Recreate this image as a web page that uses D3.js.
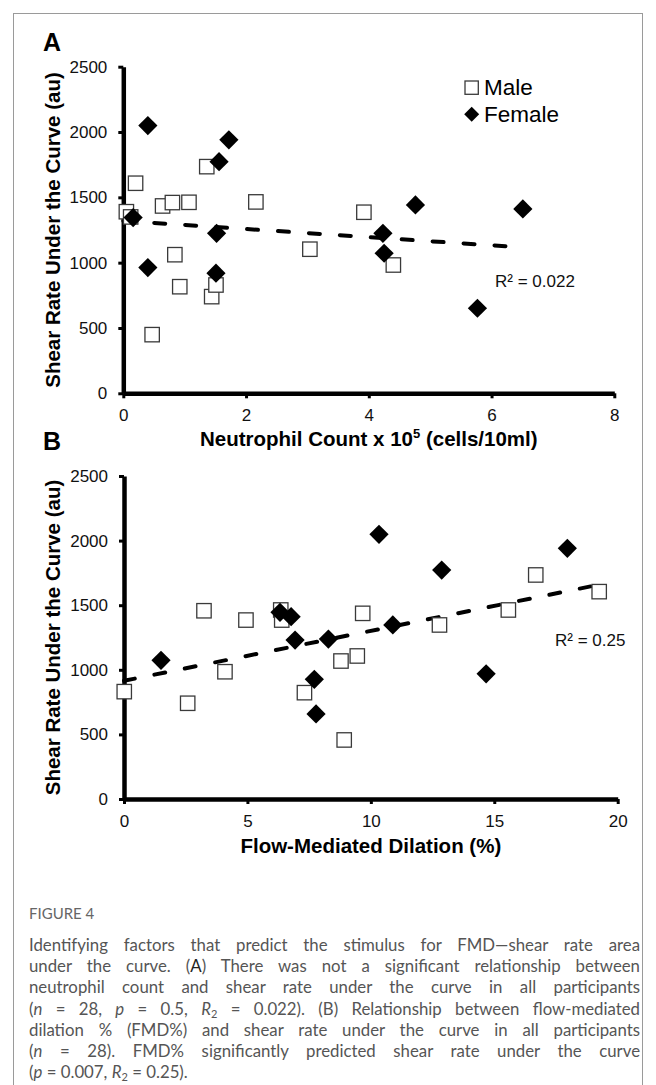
<!DOCTYPE html>
<html>
<head>
<meta charset="UTF-8">
<title>Figure 4</title>
<script src="https://cdn.jsdelivr.net/npm/d3@7"></script>
<style>
  body { margin: 0; background: #fff; }
  svg text { font-family: "Liberation Sans", Arial, sans-serif; fill: #000; }
  svg .caption text { font-family: Lato, "Open Sans", sans-serif; fill: #555; }
</style>
</head>
<body>
<script>
// panel A : neutrophil count (x10^5) vs shear rate AUC
var maleA_x   = [0.05, 0.12, 0.20, 0.64, 0.80, 1.07, 2.16, 1.36, 0.84, 0.92, 1.44, 1.51, 0.47, 3.04, 3.92, 4.40];
var maleA_y   = [1390, 1350, 1608, 1434, 1460, 1462, 1465, 1735, 1061, 816, 740, 829, 449, 1103, 1386, 982];
var femaleA_x = [0.16, 0.40, 1.56, 1.72, 1.52, 0.40, 1.51, 4.76, 6.51, 4.23, 4.25, 5.77];
var femaleA_y = [1345, 2049, 1773, 1940, 1225, 962, 919, 1442, 1411, 1225, 1072, 651];
var trendA_x  = [0, 6.35];
var trendA_y  = [1320, 1122];

// panel B : FMD % vs shear rate AUC
var maleB_x   = [0.01, 2.58, 3.24, 4.94, 4.09, 6.35, 6.39, 7.31, 8.79, 9.45, 8.92, 9.67, 12.78, 15.57, 16.68, 19.25];
var maleB_y   = [831, 741, 1457, 1385, 985, 1463, 1385, 823, 1068, 1107, 457, 1437, 1347, 1463, 1734, 1605];
var femaleB_x = [1.50, 6.32, 6.77, 6.93, 8.28, 7.71, 7.78, 10.33, 12.87, 17.96, 10.89, 14.67];
var femaleB_y = [1073, 1445, 1411, 1230, 1238, 926, 658, 2049, 1772, 1940, 1347, 969];
var trendB_x  = [0, 19.2];
var trendB_y  = [915, 1657];

var yTicks  = [0, 500, 1000, 1500, 2000, 2500];
var xTicksA = [0, 2, 4, 6, 8];
var xTicksB = [0, 5, 10, 15, 20];
var legendLabels = ["Male", "Female"];

var captionTitle = "FIGURE 4";
// each line: list of [text, style]  (i = italic, s = subscript)
var captionLines = [
  [["Identifying factors that predict the stimulus for FMD\u2014shear rate area", ""]],
  [["under the curve. (", ""], ["A", "b"], [") There was not a significant relationship between", ""]],
  [["neutrophil count and shear rate under the curve in all participants", ""]],
  [["(", ""], ["n", "i"], [" = 28, ", ""], ["p", "i"], [" = 0.5, ", ""], ["R", "i"], ["2", "s"], [" = 0.022). (B) Relationship between flow-mediated", ""]],
  [["dilation % (FMD%) and shear rate under the curve in all participants", ""]],
  [["(", ""], ["n", "i"], [" = 28). FMD% significantly predicted shear rate under the curve", ""]],
  [["(", ""], ["p", "i"], [" = 0.007, ", ""], ["R", "i"], ["2", "s"], [" = 0.25).", ""]]
];

var W = 656, H = 1085;
var svg = d3.select("body").append("svg")
            .attr("width", W)
            .attr("height", H);

// figure frame
svg.append("rect")
   .attr("x", 13.5).attr("y", 13.5)
   .attr("width", 629).attr("height", 1100)
   .attr("fill", "none")
   .attr("stroke", "#9a9a9a")
   .attr("stroke-width", 1);

function zip(a, b) { return a.map(function(v, i) { return [v, b[i]]; }); }

function drawPanel(p) {
  var x = d3.scaleLinear().domain([0, p.xmax]).range([p.left, p.right]);
  var y = d3.scaleLinear().domain([0, 2500]).range([p.bottom, p.top]);
  var g = svg.append("g");

  var yAxis = g.append("g")
     .attr("transform", "translate(" + p.left + ",0)")
     .call(d3.axisLeft(y).tickValues(yTicks).tickFormat(d3.format("d"))
             .tickSize(5).tickPadding(11).tickSizeOuter(0));
  var xAxis = g.append("g")
     .attr("transform", "translate(0," + p.bottom + ")")
     .call(d3.axisBottom(x).tickValues(p.xticks).tickFormat(d3.format("d"))
             .tickSize(5).tickPadding(11).tickSizeOuter(0));

  [yAxis, xAxis].forEach(function(a) {
    a.select(".domain").attr("stroke", "#000").attr("stroke-width", 4.5);
    a.selectAll(".tick line").attr("stroke", "#000").attr("stroke-width", 3);
    a.selectAll(".tick text").attr("font-size", 17).style("fill", "#111");
  });

  // axis titles
  g.append("text")
   .attr("transform", "translate(53," + ((p.top + p.bottom) / 2) + ") rotate(-90)")
   .attr("text-anchor", "middle")
   .attr("dy", "0.35em")
   .attr("font-size", 20.5)
   .attr("font-weight", "bold")
   .text("Shear Rate Under the Curve (au)");

  var xt = g.append("text")
   .attr("x", (p.left + p.right) / 2)
   .attr("y", p.titleY)
   .attr("text-anchor", "middle")
   .attr("font-size", 20.5)
   .attr("font-weight", "bold");
  p.xtitle.forEach(function(s) {
    var t = xt.append("tspan").text(s[0]);
    if (s[1] == "sup") t.attr("font-size", 13).attr("dy", -8);
    if (s[1] == "back") t.attr("dy", 8);
  });

  // panel letter
  g.append("text")
   .attr("x", 43).attr("y", p.letterY)
   .attr("font-size", 25)
   .attr("font-weight", "bold")
   .text(p.letter);

  // trend line
  var line = d3.line().x(function(d) { return x(d[0]); }).y(function(d) { return y(d[1]); });
  g.append("path")
   .datum(zip(p.tx, p.ty))
   .attr("d", line)
   .attr("fill", "none")
   .attr("stroke", "#000")
   .attr("stroke-width", 4)
   .attr("stroke-linecap", "round")
   .attr("stroke-dasharray", "11 20");

  // males: open squares
  g.selectAll(".male")
   .data(zip(p.mx, p.my))
   .enter().append("rect")
   .attr("class", "male")
   .attr("x", function(d) { return x(d[0]) - 7.2; })
   .attr("y", function(d) { return y(d[1]) - 7.2; })
   .attr("width", 14.4).attr("height", 14.4)
   .attr("fill", "#fff")
   .attr("stroke", "#3a3a3a")
   .attr("stroke-width", 1.3);

  // females: filled diamonds
  var diamond = d3.symbol().type(d3.symbolSquare).size(185);
  g.selectAll(".female")
   .data(zip(p.fx, p.fy))
   .enter().append("path")
   .attr("class", "female")
   .attr("d", diamond)
   .attr("transform", function(d) { return "translate(" + x(d[0]) + "," + y(d[1]) + ") rotate(45)"; })
   .attr("fill", "#000");

  // R squared label
  g.append("text")
   .attr("x", p.r2x).attr("y", p.r2y)
   .attr("font-size", 17)
   .style("fill", "#111")
   .text(p.r2);
}

drawPanel({
  letter: "A", letterY: 51,
  left: 123.3, right: 614.3, top: 66.7, bottom: 393.3,
  xmax: 8, xticks: xTicksA,
  xtitle: [["Neutrophil Count x 10", ""], ["5", "sup"], [" (cells/10ml)", "back"]],
  titleY: 446,
  mx: maleA_x, my: maleA_y, fx: femaleA_x, fy: femaleA_y,
  tx: trendA_x, ty: trendA_y,
  r2: "R\u00b2 = 0.022", r2x: 495, r2y: 287
});

drawPanel({
  letter: "B", letterY: 450,
  left: 124, right: 617.7, top: 476, bottom: 799,
  xmax: 20, xticks: xTicksB,
  xtitle: [["Flow-Mediated Dilation (%)", ""]],
  titleY: 853,
  mx: maleB_x, my: maleB_y, fx: femaleB_x, fy: femaleB_y,
  tx: trendB_x, ty: trendB_y,
  r2: "R\u00b2 = 0.25", r2x: 555, r2y: 646
});

// legend (panel A)
var leg = svg.append("g");
leg.append("rect")
   .attr("x", 465).attr("y", 81)
   .attr("width", 13.3).attr("height", 13.3)
   .attr("fill", "#fff").attr("stroke", "#3a3a3a").attr("stroke-width", 1.3);
leg.append("path")
   .attr("d", d3.symbol().type(d3.symbolSquare).size(112))
   .attr("transform", "translate(471.7,114.3) rotate(45)")
   .attr("fill", "#000");
leg.selectAll(".lab")
   .data(legendLabels)
   .enter().append("text")
   .attr("x", 484)
   .attr("y", function(d, i) { return 95 + i * 27; })
   .attr("font-size", 22.5)
   .text(function(d) { return d; });

// caption
var cap = svg.append("g").attr("class", "caption");
cap.append("text")
   .attr("x", 29).attr("y", 919)
   .attr("font-size", 15)
   .style("fill", "#666")
   .text(captionTitle);

var capLeft = 29, capRight = 640;
captionLines.forEach(function(parts, i) {
  var t = cap.append("text")
     .attr("x", capLeft)
     .attr("y", 951 + i * 21.2)
     .attr("font-size", 16.8);
  var sub = false;
  parts.forEach(function(s) {
    var ts = t.append("tspan").text(s[0]);
    if (sub) { ts.attr("dy", -3); sub = false; }
    if (s[1] == "i") ts.attr("font-style", "italic");
    if (s[1] == "b") ts.style("fill", "#222");
    if (s[1] == "s") { ts.attr("font-size", 11).attr("dy", 3); sub = true; }
  });
  // justify all but the last line
  if (i < captionLines.length - 1) {
    var full = parts.map(function(s) { return s[0]; }).join("");
    var spaces = (full.match(/ /g) || []).length;
    var natural = t.node().getComputedTextLength();
    t.attr("word-spacing", (capRight - capLeft - natural) / spaces);
  }
});
</script>
</body>
</html>
